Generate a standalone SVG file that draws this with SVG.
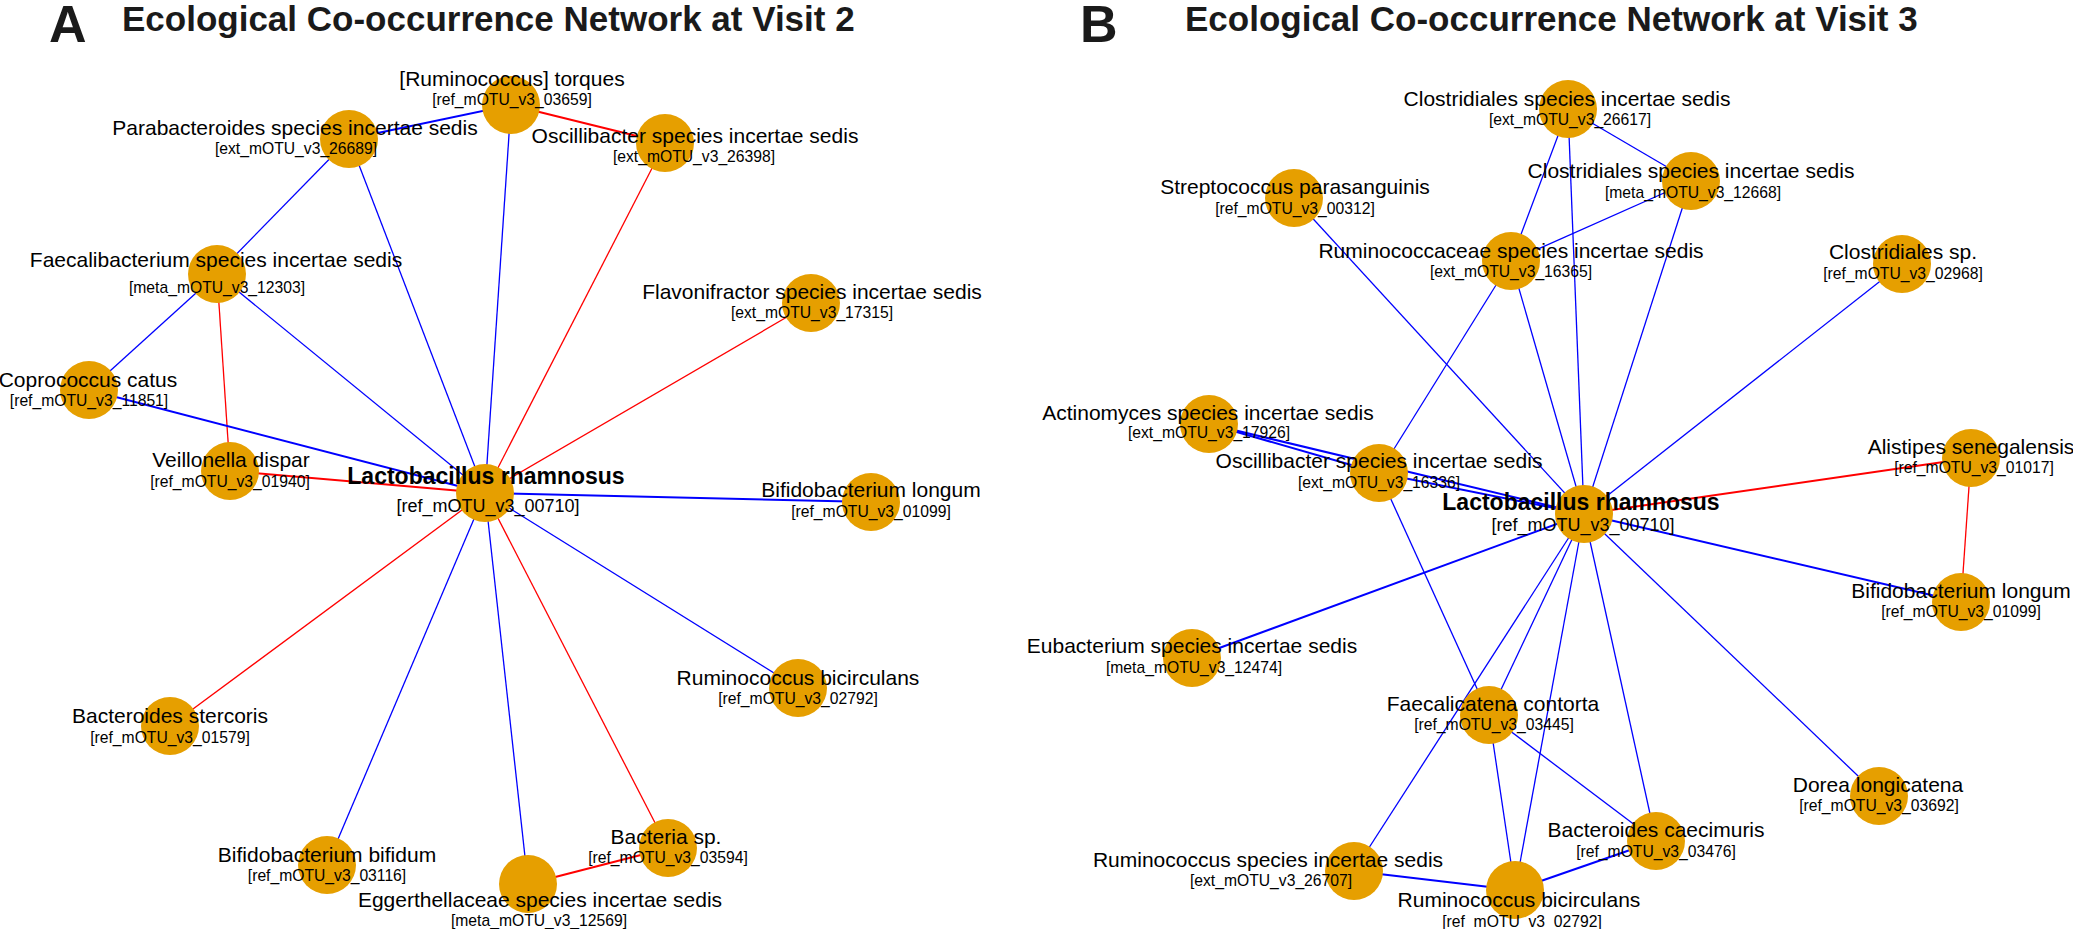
<svg xmlns="http://www.w3.org/2000/svg" width="2073" height="929" viewBox="0 0 2073 929">
<style>
text{font-family:"Liberation Sans",Arial,Helvetica,sans-serif;fill:#000;text-anchor:middle}
.t{font-weight:bold;font-size:35px;fill:#1a1a1a;text-anchor:start}
.p{font-weight:bold;font-size:52px;fill:#1a1a1a;text-anchor:start}
.nm{font-size:21px}
.id{font-size:15.7px}
.cn{font-size:23px;font-weight:bold}
.ci{font-size:18px}
circle{fill:#E69F00}
line{fill:none;stroke-width:1.3}
.b{stroke:#0000FF}
.r{stroke:#FF0000}
.w{stroke-width:2}
</style>
<rect x="0" y="0" width="2073" height="929" fill="#FFFFFF"/>
<g id="titles">
<text class="p" x="49" y="42">A</text>
<text class="t" x="122" y="31">Ecological Co-occurrence Network at Visit 2</text>
<text class="p" x="1080" y="42">B</text>
<text class="t" x="1185" y="31">Ecological Co-occurrence Network at Visit 3</text>
</g>
<g id="connectors">
<line class="b w" x1="349" y1="139" x2="511" y2="105"/>
<line class="r w" x1="511" y1="105" x2="665" y2="143"/>
<line class="b" x1="349" y1="139" x2="217" y2="274"/>
<line class="b" x1="349" y1="139" x2="485" y2="493"/>
<line class="b" x1="511" y1="105" x2="485" y2="493"/>
<line class="r" x1="665" y1="143" x2="485" y2="493"/>
<line class="b" x1="217" y1="274" x2="89" y2="390"/>
<line class="r" x1="217" y1="274" x2="230" y2="471"/>
<line class="b" x1="217" y1="274" x2="485" y2="493"/>
<line class="r" x1="811" y1="303" x2="485" y2="493"/>
<line class="b w" x1="89" y1="390" x2="485" y2="493"/>
<line class="r w" x1="230" y1="471" x2="485" y2="493"/>
<line class="b w" x1="871" y1="502" x2="485" y2="493"/>
<line class="r" x1="485" y1="493" x2="170" y2="726"/>
<line class="b" x1="485" y1="493" x2="327" y2="865"/>
<line class="b" x1="485" y1="493" x2="528" y2="884"/>
<line class="r" x1="485" y1="493" x2="668" y2="848"/>
<line class="b" x1="485" y1="493" x2="798" y2="688"/>
<line class="r w" x1="528" y1="884" x2="668" y2="848"/>

<line class="b" x1="1568" y1="109" x2="1691" y2="181"/>
<line class="b" x1="1568" y1="109" x2="1511" y2="261"/>
<line class="b" x1="1568" y1="109" x2="1584" y2="514"/>
<line class="b" x1="1691" y1="181" x2="1511" y2="261"/>
<line class="b" x1="1691" y1="181" x2="1584" y2="514"/>
<line class="b" x1="1294" y1="198" x2="1584" y2="514"/>
<line class="b" x1="1511" y1="261" x2="1584" y2="514"/>
<line class="b" x1="1511" y1="261" x2="1379" y2="473"/>
<line class="b" x1="1902" y1="264" x2="1584" y2="514"/>
<line class="b w" x1="1209" y1="424" x2="1584" y2="514"/>
<line class="b w" x1="1209" y1="424" x2="1379" y2="473"/>
<line class="b w" x1="1379" y1="473" x2="1584" y2="514"/>
<line class="b" x1="1379" y1="473" x2="1489" y2="715"/>
<line class="r w" x1="1971" y1="458" x2="1584" y2="514"/>
<line class="r" x1="1971" y1="458" x2="1961" y2="602"/>
<line class="b w" x1="1961" y1="602" x2="1584" y2="514"/>
<line class="b w" x1="1192" y1="658" x2="1584" y2="514"/>
<line class="b" x1="1489" y1="715" x2="1584" y2="514"/>
<line class="b" x1="1354" y1="871" x2="1584" y2="514"/>
<line class="b" x1="1515" y1="890" x2="1584" y2="514"/>
<line class="b" x1="1656" y1="841" x2="1584" y2="514"/>
<line class="b" x1="1879" y1="796" x2="1584" y2="514"/>
<line class="b" x1="1489" y1="715" x2="1515" y2="890"/>
<line class="b" x1="1489" y1="715" x2="1656" y2="841"/>
<line class="b w" x1="1354" y1="871" x2="1515" y2="890"/>
<line class="b w" x1="1515" y1="890" x2="1656" y2="841"/>
</g>

<g id="A_lacto"><circle cx="485" cy="493" r="29"/><text class="cn" x="486" y="484">Lactobacillus rhamnosus</text><text class="ci" x="488" y="512">[ref_mOTU_v3_00710]</text></g>
<g id="A_rtorques"><circle cx="511" cy="105" r="29"/><text class="nm" x="512" y="86">[Ruminococcus] torques</text><text class="id" x="512" y="105">[ref_mOTU_v3_03659]</text></g>
<g id="A_parabact"><circle cx="349" cy="139" r="29"/><text class="nm" x="295" y="135">Parabacteroides species incertae sedis</text><text class="id" x="296" y="154">[ext_mOTU_v3_26689]</text></g>
<g id="A_oscill"><circle cx="665" cy="143" r="29"/><text class="nm" x="695" y="143">Oscillibacter species incertae sedis</text><text class="id" x="694" y="162">[ext_mOTU_v3_26398]</text></g>
<g id="A_faecali"><circle cx="217" cy="274" r="29"/><text class="nm" x="216" y="267">Faecalibacterium species incertae sedis</text><text class="id" x="217" y="293">[meta_mOTU_v3_12303]</text></g>
<g id="A_flavoni"><circle cx="811" cy="303" r="29"/><text class="nm" x="812" y="299">Flavonifractor species incertae sedis</text><text class="id" x="812" y="318">[ext_mOTU_v3_17315]</text></g>
<g id="A_coproc"><circle cx="89" cy="390" r="29"/><text class="nm" x="88" y="387">Coprococcus catus</text><text class="id" x="89" y="406">[ref_mOTU_v3_11851]</text></g>
<g id="A_veillon"><circle cx="230" cy="471" r="29"/><text class="nm" x="231" y="467">Veillonella dispar</text><text class="id" x="230" y="487">[ref_mOTU_v3_01940]</text></g>
<g id="A_bifilong"><circle cx="871" cy="502" r="29"/><text class="nm" x="871" y="497">Bifidobacterium longum</text><text class="id" x="871" y="517">[ref_mOTU_v3_01099]</text></g>
<g id="A_bactster"><circle cx="170" cy="726" r="29"/><text class="nm" x="170" y="723">Bacteroides stercoris</text><text class="id" x="170" y="743">[ref_mOTU_v3_01579]</text></g>
<g id="A_rumbic"><circle cx="798" cy="688" r="29"/><text class="nm" x="798" y="685">Ruminococcus bicirculans</text><text class="id" x="798" y="704">[ref_mOTU_v3_02792]</text></g>
<g id="A_bifibif"><circle cx="327" cy="865" r="29"/><text class="nm" x="327" y="862">Bifidobacterium bifidum</text><text class="id" x="327" y="881">[ref_mOTU_v3_03116]</text></g>
<g id="A_egger"><circle cx="528" cy="884" r="29"/><text class="nm" x="540" y="907">Eggerthellaceae species incertae sedis</text><text class="id" x="539" y="926">[meta_mOTU_v3_12569]</text></g>
<g id="A_bactsp"><circle cx="668" cy="848" r="29"/><text class="nm" x="666" y="844">Bacteria sp.</text><text class="id" x="668" y="863">[ref_mOTU_v3_03594]</text></g>

<g id="B_lacto"><circle cx="1584" cy="514" r="29"/><text class="cn" x="1581" y="510">Lactobacillus rhamnosus</text><text class="ci" x="1583" y="531">[ref_mOTU_v3_00710]</text></g>
<g id="B_clos1"><circle cx="1568" cy="109" r="29"/><text class="nm" x="1567" y="106">Clostridiales species incertae sedis</text><text class="id" x="1570" y="125">[ext_mOTU_v3_26617]</text></g>
<g id="B_clos2"><circle cx="1691" cy="181" r="29"/><text class="nm" x="1691" y="178">Clostridiales species incertae sedis</text><text class="id" x="1693" y="198">[meta_mOTU_v3_12668]</text></g>
<g id="B_strep"><circle cx="1294" cy="198" r="29"/><text class="nm" x="1295" y="194">Streptococcus parasanguinis</text><text class="id" x="1295" y="214">[ref_mOTU_v3_00312]</text></g>
<g id="B_rumcae"><circle cx="1511" cy="261" r="29"/><text class="nm" x="1511" y="258">Ruminococcaceae species incertae sedis</text><text class="id" x="1511" y="277">[ext_mOTU_v3_16365]</text></g>
<g id="B_clossp"><circle cx="1902" cy="264" r="29"/><text class="nm" x="1903" y="259">Clostridiales sp.</text><text class="id" x="1903" y="279">[ref_mOTU_v3_02968]</text></g>
<g id="B_actino"><circle cx="1209" cy="424" r="29"/><text class="nm" x="1208" y="420">Actinomyces species incertae sedis</text><text class="id" x="1209" y="438">[ext_mOTU_v3_17926]</text></g>
<g id="B_oscill"><circle cx="1379" cy="473" r="29"/><text class="nm" x="1379" y="468">Oscillibacter species incertae sedis</text><text class="id" x="1379" y="488">[ext_mOTU_v3_16336]</text></g>
<g id="B_alist"><circle cx="1971" cy="458" r="29"/><text class="nm" x="1971" y="454">Alistipes senegalensis</text><text class="id" x="1974" y="473">[ref_mOTU_v3_01017]</text></g>
<g id="B_bifilong"><circle cx="1961" cy="602" r="29"/><text class="nm" x="1961" y="598">Bifidobacterium longum</text><text class="id" x="1961" y="617">[ref_mOTU_v3_01099]</text></g>
<g id="B_eubact"><circle cx="1192" cy="658" r="29"/><text class="nm" x="1192" y="653">Eubacterium species incertae sedis</text><text class="id" x="1194" y="673">[meta_mOTU_v3_12474]</text></g>
<g id="B_faecat"><circle cx="1489" cy="715" r="29"/><text class="nm" x="1493" y="711">Faecalicatena contorta</text><text class="id" x="1494" y="730">[ref_mOTU_v3_03445]</text></g>
<g id="B_dorea"><circle cx="1879" cy="796" r="29"/><text class="nm" x="1878" y="792">Dorea longicatena</text><text class="id" x="1879" y="811">[ref_mOTU_v3_03692]</text></g>
<g id="B_bactcaec"><circle cx="1656" cy="841" r="29"/><text class="nm" x="1656" y="837">Bacteroides caecimuris</text><text class="id" x="1656" y="857">[ref_mOTU_v3_03476]</text></g>
<g id="B_rumsp"><circle cx="1354" cy="871" r="29"/><text class="nm" x="1268" y="867">Ruminococcus species incertae sedis</text><text class="id" x="1271" y="886">[ext_mOTU_v3_26707]</text></g>
<g id="B_rumbic"><circle cx="1515" cy="890" r="29"/><text class="nm" x="1519" y="907">Ruminococcus bicirculans</text><text class="id" x="1522" y="927">[ref_mOTU_v3_02792]</text></g>
</svg>
